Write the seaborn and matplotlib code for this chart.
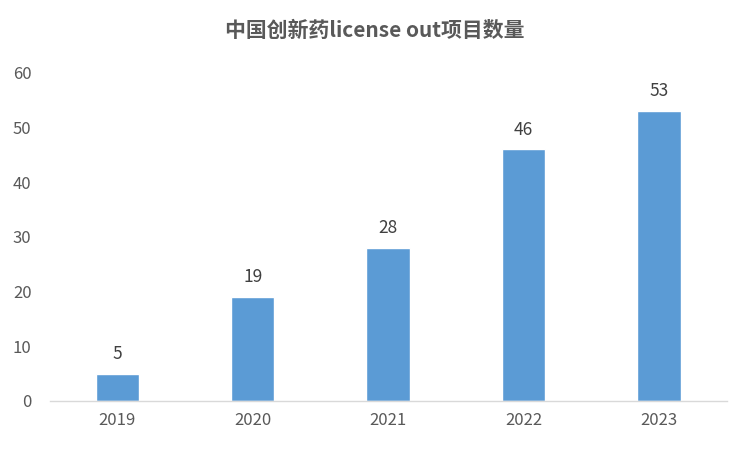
import matplotlib
matplotlib.use("Agg")
import matplotlib.pyplot as plt
import seaborn as sns
import pandas as pd

years = ["2019", "2020", "2021", "2022", "2023"]
counts = [5, 19, 28, 46, 53]
title = "中国创新药license out项目数量"

sns.set_theme(style="white")
plt.rcParams['font.family'] = ['Noto Sans CJK SC', 'DejaVu Sans']

df = pd.DataFrame({"year": years, "count": counts})

fig = plt.figure(figsize=(7.5, 4.5), dpi=100)
ax = fig.add_axes([0.066, 0.109, 0.903, 0.729])
sns.barplot(data=df, x="year", y="count", color="#5B9BD5", saturation=1, width=0.32, ax=ax)

for i, v in enumerate(counts):
    ax.text(i, v + 2.0, str(v), ha="center", va="bottom", fontsize=12.5, color="#404040")

ax.set_ylim(0, 60)
ax.set_xlim(-0.5, 4.5)
ax.set_yticks(range(0, 61, 10))
ax.set_xlabel("")
ax.set_ylabel("")
for s in ["top", "right", "left"]:
    ax.spines[s].set_visible(False)
ax.spines["bottom"].set_color("#D9D9D9")
ax.spines["bottom"].set_linewidth(1)
ax.tick_params(axis="both", length=0, labelsize=12, colors="#595959", pad=8)
ax.tick_params(axis="y", pad=13)
fig.text(0.5, 0.932, title, ha="center", va="center", fontsize=15, fontweight="bold", color="#595959")

fig.savefig("out.png", dpi=100)
